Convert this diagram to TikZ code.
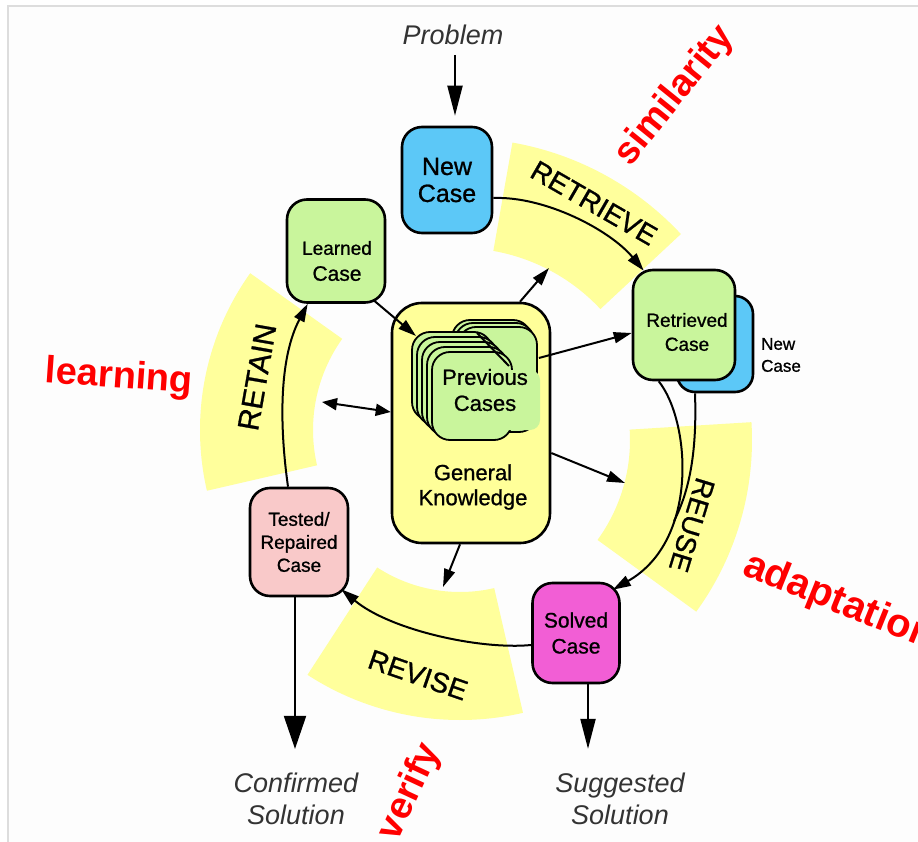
\documentclass[tikz,border=0pt]{standalone}
\usepackage{fontspec}
\setmainfont{Liberation Sans}
\newfontfamily\medsans[FakeBold=0.9]{Liberation Sans}
\usetikzlibrary{arrows.meta,calc}
\definecolor{bandyellow}{HTML}{FFFF9C}
\definecolor{gkyellow}{HTML}{FFFF99}
\definecolor{cyanbox}{HTML}{5CC8F7}
\definecolor{greenbox}{HTML}{C9F59C}
\definecolor{pinkbox}{HTML}{F9C9C9}
\definecolor{magbox}{HTML}{F25ED5}
\definecolor{labelgray}{HTML}{333333}
\definecolor{framegray}{HTML}{DDDDDD}
\definecolor{pagebg}{HTML}{FDFDFD}
\newcommand\fsz[2]{\fontsize{#1}{#2}\selectfont}
\begin{document}
\begin{tikzpicture}[x=1pt,y=-1pt,
  box/.style={draw=black,line width=2.6pt,rounded corners=20pt,align=center,inner sep=0pt,text=black},
  card/.style={draw=black,line width=1.8pt,rounded corners=18pt,fill=greenbox,inner sep=0pt},
  conn/.style={line width=2pt,draw=black},
  tipm/.style={-{Triangle[length=18pt,width=11pt]}},
  tipbig/.style={-{Triangle[length=30pt,width=15pt]}},
  tipwide/.style={-{Triangle[length=33pt,width=22pt]}},
  tipdouble/.style={{Triangle[length=15pt,width=12pt]}-{Triangle[length=15pt,width=12pt]}},
  bandlabel/.style={font=\medsans\fsz{28}{30},text=black,inner sep=0pt},
  redword/.style={font=\fsz{38}{42}\bfseries,text=red,inner sep=0pt},
  italabel/.style={font=\fsz{27}{32}\itshape,text=labelgray,align=center,inner sep=0pt},
  boxtext/.style={align=center,inner sep=0pt,text=black}
]
\useasboundingbox (0,0) rectangle (918,842);
\clip (0,0) rectangle (918,842);
\fill[white] (0,0) rectangle (918,842);
\fill[pagebg] (8,6) rectangle (918,842);
\draw[framegray,line width=1.2pt] (8,842) -- (8,6) -- (918,6);

% centres of the yellow bands
\coordinate (C) at (460,440);
\coordinate (C2) at (470,430);

% yellow bands
\fill[bandyellow] ([shift={(-80:302)}]C) arc[start angle=-80,end angle=-43,radius=302]
  -- ([shift={(-43:192)}]C) arc[start angle=-43,end angle=-80,radius=192] -- cycle;
\fill[bandyellow] ([shift={(-3.5:292)}]C) arc[start angle=-3.5,end angle=36,radius=292]
  -- ([shift={(36:170)}]C) arc[start angle=36,end angle=-3.5,radius=170] -- cycle;
\fill[bandyellow] ([shift={(77:280)}]C) arc[start angle=77,end angle=123,radius=280]
  -- ([shift={(123:152)}]C) arc[start angle=123,end angle=77,radius=152] -- cycle;
\fill[bandyellow] ([shift={(167:270)}]C2) arc[start angle=167,end angle=215.5,radius=270]
  -- ([shift={(215.5:157)}]C2) arc[start angle=215.5,end angle=167,radius=157] -- cycle;

% band labels
\node[bandlabel,rotate=-30] (lretrieve) at (594,203) {RETRIEVE};
\node[bandlabel,rotate=-107] (lreuse) at (692,525) {REUSE};
\node[bandlabel,rotate=-19] (lrevise) at (418,675) {REVISE};
\node[bandlabel,rotate=80,font=\medsans\fsz{30}{32}] (lretain) at (257,377) {RETAIN};

% red words
\node[redword,rotate=51] (similarity) at (675,96) {similarity};
\node[redword,rotate=-4] (learning) at (119,378) {learning};
\node[redword,font=\fsz{40}{44}\bfseries,rotate=-22,anchor=base west] (adaptation) at (741,574) {adaptation};
\node[redword,rotate=65] (verify) at (410,792) {verify};

% italic labels
\node[italabel] (problem) at (453,35) {Problem};
\node[italabel] (confirmed) at (296,799) {Confirmed\\Solution};
\node[italabel] (suggested) at (620,799) {Suggested\\Solution};

% boxes
\node[box,fill=gkyellow,rounded corners=30pt,minimum width=158pt,minimum height=240pt] (gk) at (471,423) {};
\node[boxtext,font=\medsans\fsz{22}{25}] (gktext) at (473,487) {General\\Knowledge};

% stack of previous cases
\draw[card] (452,320) rectangle (531,425);
\draw[card] (455,323) rectangle (534,428);
\draw[card] (458,327) rectangle (537,432);
\draw[card] (412,332) rectangle (492,420);
\draw[card] (417,337) rectangle (497,425);
\draw[card] (422,342) rectangle (502,430);
\draw[card] (427,347) rectangle (507,435);
\node[card,minimum width=80pt,minimum height=88pt] (prev) at (472,396) {};
\node[card,draw=none,minimum width=70pt,minimum height=60pt,rounded corners=10pt] (prevfill) at (505,400) {};
\draw[line width=2pt] (477,333) -- (509,366);
\node[boxtext,font=\medsans\fsz{22}{26}] (prevtext) at (485,390) {Previous\\Cases};
\coordinate (stackback) at (416,336);

\node[box,fill=cyanbox,minimum width=90pt,minimum height=106pt,font=\medsans\fsz{25}{27}] (newcase) at (447,180) {New\\Case};
\node[box,fill=greenbox,minimum width=98pt,minimum height=103pt] (learned) at (336,251) {};
\node[boxtext,font=\medsans\fsz{21}{26}] (learnedtext) at (337,261) {{\fsz{19}{26}Learned}\\Case};
\node[box,fill=cyanbox,rounded corners=18pt,minimum width=76pt,minimum height=96pt] (bluenew) at (715,344) {};
\node[box,fill=greenbox,minimum width=102pt,minimum height=110pt] (retrieved) at (684,325) {};
\node[boxtext,font=\medsans\fsz{19}{24}] (retrievedtext) at (687,332) {Retrieved\\Case};
\node[boxtext,font=\medsans\fsz{17}{22},align=left] (newcaselabel) at (781,355) {New\\Case};
\node[box,fill=pinkbox,minimum width=98pt,minimum height=108pt,font=\medsans\fsz{19}{23}] (tested) at (299,542) {Tested/\\Repaired\\Case};
\node[box,fill=magbox,minimum width=87pt,minimum height=100pt,font=\medsans\fsz{21}{26}] (solved) at (576,633) {Solved\\Case};

% free ends of arrows
\coordinate (retA) at (549,268);
\coordinate (reuseA) at (625,483);
\coordinate (reviseA) at (443,587);
\coordinate (retainA) at (322,402);

% connectors
\draw[conn,tipbig] ([shift={(2,20)}]problem.center) -- ([shift={(8,-10)}]newcase.north);
\draw[conn,tipm] ([shift={(0,18)}]newcase.east) .. controls (545,196) and (610,230) .. ([shift={(12,2)}]retrieved.north west);
\draw[conn] ([shift={(-20,0)}]bluenew.south) .. controls (697,450) and (690,490) .. (674,521);
\draw[conn,tipm] ([shift={(27,0)}]retrieved.south west) .. controls (690,420) and (700,540) .. ([shift={(-8,8)}]solved.north east);
\draw[conn,tipm] ([shift={(0,12)}]solved.west) .. controls (480,650) and (390,630) .. ([shift={(-8,-8)}]tested.south east);
\draw[conn,tipm] ([shift={(-11,0)}]tested.north) .. controls (280,430) and (278,360) .. ([shift={(22,0)}]learned.south west);
\draw[conn,tipm] ([shift={(-12,-3)}]learned.south east) -- (stackback);
\draw[conn,tipm] ([shift={(49,0)}]gk.north) -- (retA);
\draw[conn,tipm] ([shift={(26,-38)}]prev.east) -- ([shift={(0,8)}]retrieved.west);
\draw[conn,tipm] ([shift={(0,30)}]gk.east) -- (reuseA);
\draw[conn,tipm] ([shift={(-11,0)}]gk.south) -- (reviseA);
\draw[conn,tipdouble] ([shift={(0,-11)}]gk.west) -- (retainA);
\draw[conn,tipwide] ([shift={(-4,0)}]tested.south) -- ([shift={(-1,-24)}]confirmed.north);
\draw[conn,tipbig] ([shift={(12,0)}]solved.south) -- ([shift={(-32,-24)}]suggested.north);
\end{tikzpicture}
\end{document}
